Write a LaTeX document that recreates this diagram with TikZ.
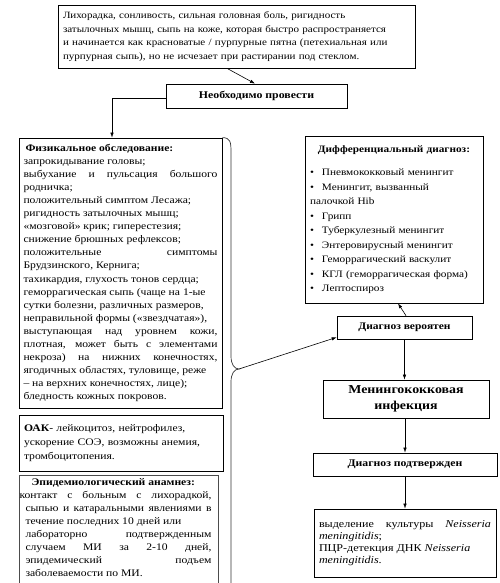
\documentclass[tikz,border=0pt]{standalone}
\usepackage{fontspec}
\setmainfont[FakeStretch=1.15]{Liberation Serif}
\usetikzlibrary{arrows.meta}
\begin{document}
\begin{tikzpicture}[x=1pt,y=-1pt,>={Latex[length=5pt,width=3.5pt]},
	box/.style={rectangle,draw,line width=0.7pt,inner xsep=5pt,inner ysep=3pt}]
				\useasboundingbox (0,0) rectangle (500,583);
				
				\begin{scope}[every node/.style={box}]
					\node[text width=347pt,minimum height=63pt,align=left,font=\fontsize{9.6}{13.5}\selectfont] (symptoms) at (236.5,36.5) {Лихорадка, сонливость, сильная головная боль, ригидность\\ затылочных мышц, сыпь на коже, которая быстро распространяется\\ и начинается как красноватые / пурпурные пятна (петехиальная или\\ пурпурная сыпь), но не исчезает при растирании под стеклом.};
					\node[minimum width=181pt,minimum height=24pt,font=\fontsize{10.3}{12}\selectfont\bfseries] (needed) at (256.5,96) {Необходимо провести};
					\node[text width=194pt,minimum height=270pt,inner xsep=4.5pt,align=justify,font=\fontsize{10.1}{13.1}\selectfont] (physexam) at (120.5,273) {\hspace*{2pt}\textbf{Физикальное обследование:}\\ запрокидывание головы;\\ выбухание и пульсация большого\linebreak родничка;\\ положительный симптом Лесажа;\\ ригидность затылочных мышц;\\ «мозговой» крик; гиперестезия;\\ снижение брюшных рефлексов;\\ положительные симптомы\linebreak Брудзинского, Кернига;\\ тахикардия, глухость тонов сердца;\\ геморрагическая сыпь (чаще на 1-ые\\ сутки болезни, различных размеров,\\ неправильной формы («звездчатая»),\\ выступающая над уровнем кожи,\linebreak плотная, может быть с элементами\linebreak некроза) на нижних конечностях,\linebreak ягодичных областях, туловище, реже\\ – на верхних конечностях, лице);\\ бледность кожных покровов.};
					\node[text width=194pt,minimum height=56pt,align=left,font=\fontsize{10.1}{13.8}\selectfont] (oak) at (121,443) {\textbf{ОАК}- лейкоцитоз, нейтрофилез,\\ ускорение СОЭ, возможны анемия,\\ тромбоцитопения.};
					\node[draw=black!70,anchor=north,text width=186pt,inner xsep=6.5pt,align=justify,font=\fontsize{10.1}{13}\selectfont] (epid) at (118.5,475) {\hspace*{6pt}\textbf{Эпидемиологический анамнез:}\\ \hspace*{-6pt}контакт с больным с лихорадкой,\linebreak сыпью и катаральными явлениями в\linebreak течение последних 10 дней или\\ лабораторно подтвержденным\linebreak случаем МИ за 2-10 дней,\linebreak эпидемический подъем\linebreak заболеваемости по МИ.\\[20pt]};
					\node[text width=168pt,minimum height=167pt,align=left,font=\fontsize{9.8}{14.5}\selectfont] (diffdiag) at (394,219.5) {\makebox[168pt]{\textbf{Дифференциальный диагноз:}}\\[9pt] \textbullet\hspace{8pt}Пневмококковый менингит\\ \textbullet\hspace{8pt}Менингит, вызванный\\ палочкой Hib\\ \textbullet\hspace{8pt}Грипп\\ \textbullet\hspace{8pt}Туберкулезный менингит\\ \textbullet\hspace{8pt}Энтеровирусный менингит\\ \textbullet\hspace{8pt}Геморрагический васкулит\\ \textbullet\hspace{8pt}КГЛ (геморрагическая форма)\\ \textbullet\hspace{8pt}Лептоспироз};
					\node[minimum width=135pt,minimum height=23pt,font=\fontsize{10}{12}\selectfont\bfseries] (probable) at (404.5,327.5) {Диагноз вероятен};
					\node[minimum width=166pt,minimum height=38pt,align=center,font=\fontsize{12.1}{16}\selectfont\bfseries] (meningo) at (406,399) {Менингококковая\\ инфекция};
					\node[minimum width=184pt,minimum height=23pt,font=\fontsize{10.2}{12}\selectfont\bfseries] (confirmed) at (405,464.5) {Диагноз подтвержден};
					\node[text width=172pt,minimum height=68pt,align=justify,font=\fontsize{10.5}{12}\selectfont] (labtests) at (405,543) {выделение культуры \textit{Neisseria}\linebreak \textit{meningitidis};\\ ПЦР-детекция ДНК \textit{Neisseria}\\ \textit{meningitidis}.};
				\end{scope}
				
				\draw[line width=0.7pt,black!80] (physexam.north east) .. controls +(8,0) and (231,142) .. (231,152) -- (231,356) .. controls (231,364) and (234,369) .. (239,369) coordinate (tip) .. controls (234,369) and (231,374) .. (231,382) -- (231,600);
				
				\begin{scope}[line width=0.6pt]
					\draw[->] ([xshift=-9.5pt]symptoms.south) -- ([xshift=-1.5pt]needed.north);
					\draw[->] ([yshift=-2pt]needed.west) -| ([xshift=-8.5pt]physexam.north);
					\draw[->] (tip) -- ([yshift=2pt]probable.south west);
					\draw[->] ([xshift=1.5pt]probable.north) -- ([xshift=4pt]diffdiag.south);
					\draw[->] (probable.south) -- (probable.south |- meningo.north);
					\draw[->] ([xshift=-1pt]meningo.south) -- ([xshift=-1pt]meningo.south |- confirmed.north);
					\draw[->] (confirmed.south) -- (labtests.north);
				\end{scope}
			\end{tikzpicture}
\end{document}
